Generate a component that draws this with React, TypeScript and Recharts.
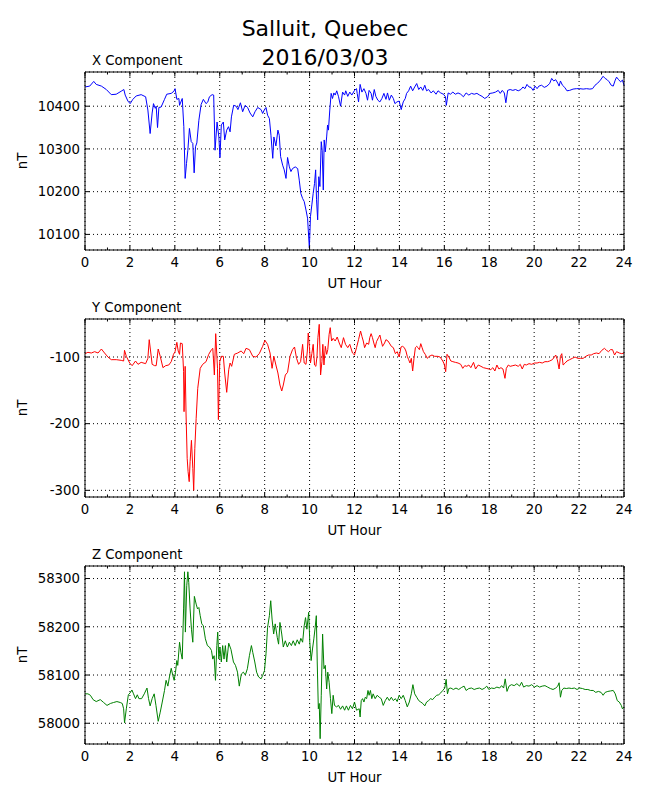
import {
  LineChart,
  Line,
  XAxis,
  YAxis,
  CartesianGrid,
  ReferenceLine,
} from "recharts";

const FONT = '"DejaVu Sans", sans-serif';

// hour ticks: every hour gets a tick mark, even hours get a label + grid line
const hourTicks = [0, 1, 2, 3, 4, 5, 6, 7, 8, 9, 10, 11, 12, 13, 14, 15, 16, 17, 18, 19, 20, 21, 22, 23, 24];
const gridHours = [0, 2, 4, 6, 8, 10, 12, 14, 16, 18, 20, 22, 24];

const xTicks = [10100, 10200, 10300, 10400];
const yTicks = [-300, -200, -100];
const zTicks = [58000, 58100, 58200, 58300];

// [UT hour, nT]
const xComponent: [number, number][] = [
  [0, 10445], [0.21, 10447], [0.39, 10458], [0.5, 10451], [0.73, 10447], [0.95, 10439], [1.17, 10427],
  [1.39, 10428], [1.61, 10435], [1.73, 10439], [1.79, 10426], [1.91, 10412], [2.01, 10406], [2.13, 10416],
  [2.28, 10424], [2.5, 10427], [2.7, 10422], [2.8, 10391], [2.9, 10336], [2.99, 10384], [3.05, 10406],
  [3.13, 10395], [3.17, 10400], [3.23, 10350], [3.29, 10397], [3.39, 10398], [3.54, 10416], [3.64, 10428],
  [3.84, 10430], [3.96, 10435], [4.01, 10441], [4.09, 10416], [4.18, 10418], [4.21, 10402], [4.33, 10418],
  [4.4, 10352], [4.46, 10231], [4.52, 10266], [4.58, 10297], [4.65, 10348], [4.73, 10317], [4.8, 10313],
  [4.86, 10244], [4.92, 10305], [4.98, 10314], [5.07, 10367], [5.17, 10404], [5.27, 10416], [5.39, 10406],
  [5.47, 10410], [5.54, 10422], [5.66, 10427], [5.73, 10426], [5.79, 10297], [5.88, 10363], [5.96, 10328],
  [6.01, 10280], [6.07, 10356], [6.16, 10363], [6.22, 10321], [6.31, 10344], [6.39, 10352], [6.46, 10340],
  [6.52, 10375], [6.62, 10402], [6.73, 10400], [6.81, 10392], [6.92, 10408], [7.02, 10387], [7.13, 10402],
  [7.24, 10397], [7.35, 10384], [7.47, 10375], [7.57, 10387], [7.69, 10397], [7.84, 10392], [7.91, 10383],
  [7.99, 10392], [8.06, 10397], [8.13, 10379], [8.21, 10371], [8.28, 10332], [8.36, 10278], [8.41, 10328],
  [8.5, 10307], [8.59, 10344], [8.65, 10332], [8.71, 10282], [8.8, 10262], [8.87, 10251], [8.95, 10231],
  [9.02, 10280], [9.1, 10258], [9.17, 10247], [9.24, 10254], [9.36, 10258], [9.47, 10254], [9.54, 10227],
  [9.61, 10196], [9.69, 10184], [9.76, 10177], [9.84, 10157], [9.91, 10138], [9.99, 10068], [10.04, 10142],
  [10.1, 10169], [10.16, 10196], [10.22, 10219], [10.27, 10251], [10.31, 10181], [10.36, 10134], [10.41, 10235],
  [10.46, 10212], [10.52, 10317], [10.56, 10297], [10.61, 10204], [10.65, 10321], [10.7, 10293], [10.76, 10328],
  [10.8, 10356], [10.84, 10344], [10.9, 10391], [10.96, 10430], [11.02, 10418], [11.08, 10431], [11.14, 10426],
  [11.21, 10436], [11.29, 10422], [11.38, 10400], [11.47, 10433], [11.56, 10426], [11.61, 10436], [11.7, 10423],
  [11.79, 10433], [11.88, 10426], [12.0, 10437], [12.09, 10441], [12.12, 10430], [12.18, 10410], [12.25, 10451],
  [12.33, 10433], [12.42, 10441], [12.51, 10430], [12.58, 10414], [12.65, 10437], [12.74, 10430], [12.8, 10414],
  [12.88, 10439], [12.95, 10423], [13.04, 10414], [13.13, 10410], [13.22, 10418], [13.31, 10430], [13.4, 10416],
  [13.47, 10431], [13.55, 10414], [13.64, 10426], [13.73, 10418], [13.8, 10406], [13.89, 10410], [13.99, 10412],
  [14.08, 10392], [14.17, 10410], [14.26, 10418], [14.32, 10430], [14.41, 10436], [14.5, 10447], [14.59, 10436],
  [14.68, 10445], [14.77, 10453], [14.86, 10439], [14.95, 10445], [15.04, 10437], [15.13, 10449], [15.21, 10436],
  [15.3, 10439], [15.41, 10431], [15.51, 10436], [15.63, 10428], [15.72, 10436], [15.84, 10431], [15.96, 10428],
  [16.05, 10422], [16.09, 10402], [16.17, 10431], [16.27, 10428], [16.38, 10433], [16.49, 10428], [16.61, 10431],
  [16.73, 10428], [16.85, 10422], [16.97, 10431], [17.09, 10426], [17.21, 10430], [17.33, 10428], [17.45, 10430],
  [17.57, 10426], [17.68, 10423], [17.8, 10418], [17.92, 10422], [18.04, 10430], [18.16, 10431], [18.28, 10433],
  [18.4, 10437], [18.49, 10430], [18.58, 10437], [18.67, 10431], [18.74, 10408], [18.82, 10437], [18.93, 10439],
  [19.05, 10437], [19.17, 10439], [19.29, 10436], [19.41, 10439], [19.5, 10445], [19.59, 10441], [19.68, 10451],
  [19.77, 10445], [19.86, 10444], [19.95, 10437], [20.04, 10447], [20.13, 10441], [20.21, 10447], [20.33, 10449],
  [20.45, 10444], [20.57, 10447], [20.69, 10453], [20.78, 10465], [20.87, 10459], [20.96, 10462], [21.05, 10454],
  [21.11, 10447], [21.17, 10459], [21.26, 10449], [21.36, 10444], [21.46, 10436], [21.58, 10437], [21.73, 10440],
  [21.88, 10441], [22.03, 10441], [22.18, 10440], [22.33, 10441], [22.48, 10440], [22.6, 10441], [22.71, 10449],
  [22.83, 10454], [22.95, 10461], [23.07, 10470], [23.16, 10465], [23.25, 10462], [23.34, 10457], [23.43, 10449],
  [23.52, 10447], [23.61, 10461], [23.67, 10468], [23.76, 10462], [23.85, 10457], [23.93, 10461], [24.0, 10449],
];

const yComponent: [number, number][] = [
  [0, -95], [0.13, -93], [0.28, -94], [0.43, -92], [0.58, -94], [0.73, -88], [0.87, -94], [1.02, -100],
  [1.17, -104], [1.39, -104], [1.61, -105], [1.72, -106], [1.76, -90], [1.84, -99], [1.99, -109], [2.1, -113],
  [2.25, -106], [2.36, -111], [2.5, -108], [2.7, -110], [2.8, -102], [2.86, -74], [2.92, -91], [2.99, -111],
  [3.1, -113], [3.17, -113], [3.26, -88], [3.35, -99], [3.47, -116], [3.59, -113], [3.73, -112], [3.84, -107],
  [3.94, -96], [4.01, -92], [4.09, -78], [4.15, -91], [4.21, -96], [4.25, -79], [4.33, -80], [4.39, -122],
  [4.41, -182], [4.46, -114], [4.5, -187], [4.55, -252], [4.59, -272], [4.64, -287], [4.68, -257], [4.74, -225],
  [4.8, -267], [4.84, -300], [4.89, -237], [4.95, -192], [5.02, -147], [5.13, -117], [5.24, -111], [5.39, -107],
  [5.51, -96], [5.63, -89], [5.69, -87], [5.76, -127], [5.82, -65], [5.9, -117], [5.94, -194], [6.0, -107],
  [6.07, -99], [6.16, -99], [6.22, -124], [6.31, -153], [6.4, -119], [6.46, -109], [6.53, -114], [6.65, -96],
  [6.8, -94], [6.95, -91], [7.07, -95], [7.17, -87], [7.32, -89], [7.47, -99], [7.61, -100], [7.76, -95],
  [7.91, -84], [8.01, -75], [8.13, -81], [8.24, -94], [8.33, -117], [8.41, -99], [8.5, -112], [8.59, -124],
  [8.68, -142], [8.76, -151], [8.83, -142], [8.92, -127], [9.02, -123], [9.13, -99], [9.24, -89], [9.33, -85],
  [9.42, -102], [9.51, -111], [9.6, -107], [9.69, -81], [9.76, -109], [9.84, -111], [9.9, -91], [9.94, -64],
  [9.99, -84], [10.04, -109], [10.1, -95], [10.16, -81], [10.22, -112], [10.28, -114], [10.33, -99], [10.37, -71],
  [10.43, -51], [10.49, -127], [10.55, -107], [10.59, -81], [10.64, -112], [10.7, -84], [10.76, -96], [10.81, -89],
  [10.87, -66], [10.92, -56], [10.98, -76], [11.05, -72], [11.14, -76], [11.23, -70], [11.32, -79], [11.41, -86],
  [11.51, -71], [11.6, -81], [11.7, -86], [11.79, -81], [11.91, -94], [12.0, -97], [12.09, -86], [12.18, -74],
  [12.27, -61], [12.33, -69], [12.39, -76], [12.45, -86], [12.54, -79], [12.63, -81], [12.68, -71], [12.74, -65],
  [12.8, -71], [12.86, -79], [12.92, -86], [12.98, -77], [13.07, -71], [13.13, -67], [13.19, -76], [13.25, -84],
  [13.34, -79], [13.4, -74], [13.49, -76], [13.55, -79], [13.64, -84], [13.73, -86], [13.82, -95], [13.9, -92],
  [13.99, -100], [14.07, -85], [14.14, -84], [14.22, -86], [14.29, -91], [14.35, -99], [14.41, -104], [14.47, -109],
  [14.53, -102], [14.59, -121], [14.65, -102], [14.71, -86], [14.77, -84], [14.83, -86], [14.89, -89], [14.95, -80],
  [15.01, -86], [15.07, -92], [15.15, -96], [15.24, -102], [15.33, -99], [15.45, -97], [15.57, -99], [15.69, -99],
  [15.81, -100], [15.93, -106], [16.0, -111], [16.06, -122], [16.12, -96], [16.2, -100], [16.29, -106], [16.38, -107],
  [16.49, -108], [16.61, -109], [16.73, -111], [16.82, -117], [16.91, -113], [17.0, -114], [17.09, -112], [17.18, -116],
  [17.3, -108], [17.39, -118], [17.51, -112], [17.63, -114], [17.74, -116], [17.86, -117], [17.98, -118], [18.07, -119],
  [18.16, -116], [18.25, -121], [18.34, -112], [18.43, -118], [18.52, -116], [18.61, -118], [18.7, -132], [18.76, -117],
  [18.85, -112], [18.93, -114], [19.05, -113], [19.17, -112], [19.29, -114], [19.38, -111], [19.47, -118], [19.56, -111],
  [19.65, -112], [19.77, -110], [19.89, -111], [20.01, -109], [20.13, -109], [20.24, -108], [20.36, -109], [20.48, -107],
  [20.6, -107], [20.69, -106], [20.81, -104], [20.9, -100], [20.96, -97], [21.03, -104], [21.11, -118], [21.17, -99],
  [21.23, -95], [21.29, -112], [21.38, -109], [21.46, -106], [21.58, -104], [21.7, -102], [21.82, -100], [21.94, -102],
  [22.06, -102], [22.18, -102], [22.3, -99], [22.42, -97], [22.54, -97], [22.65, -95], [22.77, -94], [22.89, -95],
  [23.01, -90], [23.13, -87], [23.22, -90], [23.31, -92], [23.4, -89], [23.49, -89], [23.58, -97], [23.67, -92],
  [23.79, -94], [23.9, -95], [24.0, -94],
];

const zComponent: [number, number][] = [
  [0, 58061], [0.13, 58061], [0.24, 58058], [0.36, 58049], [0.5, 58045], [0.68, 58049], [0.83, 58043],
  [0.98, 58037], [1.13, 58041], [1.27, 58043], [1.42, 58045], [1.57, 58043], [1.66, 58041], [1.72, 58030],
  [1.76, 58001], [1.84, 58030], [1.93, 58059], [2.01, 58063], [2.09, 58069], [2.16, 58061], [2.25, 58051],
  [2.33, 58059], [2.4, 58051], [2.52, 58051], [2.64, 58061], [2.76, 58073], [2.83, 58051], [2.9, 58036],
  [2.99, 58051], [3.08, 58061], [3.16, 58037], [3.26, 58004], [3.35, 58023], [3.44, 58044], [3.54, 58068],
  [3.61, 58089], [3.69, 58077], [3.76, 58096], [3.84, 58114], [3.91, 58099], [3.97, 58089], [4.03, 58106],
  [4.09, 58130], [4.13, 58120], [4.21, 58168], [4.27, 58147], [4.33, 58133], [4.39, 58237], [4.43, 58314],
  [4.47, 58189], [4.53, 58285], [4.58, 58314], [4.62, 58292], [4.68, 58237], [4.74, 58195], [4.8, 58168],
  [4.87, 58263], [4.95, 58247], [5.01, 58237], [5.07, 58240], [5.13, 58223], [5.2, 58206], [5.27, 58202],
  [5.36, 58175], [5.45, 58161], [5.54, 58158], [5.63, 58151], [5.69, 58133], [5.75, 58140], [5.81, 58089],
  [5.87, 58161], [5.91, 58189], [5.96, 58133], [6.01, 58158], [6.07, 58127], [6.13, 58161], [6.19, 58133],
  [6.25, 58161], [6.31, 58127], [6.4, 58166], [6.5, 58153], [6.61, 58127], [6.7, 58120], [6.79, 58106],
  [6.87, 58077], [6.96, 58102], [7.05, 58106], [7.14, 58100], [7.23, 58113], [7.32, 58140], [7.41, 58161],
  [7.47, 58147], [7.56, 58127], [7.64, 58106], [7.73, 58096], [7.84, 58092], [7.91, 58099], [7.99, 58109],
  [8.06, 58144], [8.13, 58199], [8.21, 58223], [8.27, 58254], [8.33, 58216], [8.4, 58185], [8.47, 58206],
  [8.56, 58178], [8.62, 58164], [8.68, 58209], [8.76, 58185], [8.83, 58158], [8.92, 58171], [9.01, 58158],
  [9.1, 58168], [9.19, 58161], [9.27, 58171], [9.36, 58161], [9.45, 58173], [9.54, 58164], [9.61, 58176],
  [9.69, 58168], [9.76, 58202], [9.82, 58219], [9.88, 58195], [9.96, 58230], [10.01, 58168], [10.07, 58130],
  [10.13, 58154], [10.19, 58175], [10.25, 58199], [10.3, 58223], [10.34, 58127], [10.39, 58030], [10.43, 58041],
  [10.47, 57968], [10.52, 58058], [10.58, 58185], [10.64, 58113], [10.7, 58120], [10.76, 58071], [10.81, 58106],
  [10.87, 58085], [10.93, 58051], [10.99, 58020], [11.05, 58058], [11.11, 58037], [11.2, 58034], [11.29, 58037],
  [11.38, 58029], [11.47, 58036], [11.56, 58027], [11.64, 58036], [11.73, 58027], [11.82, 58037], [11.91, 58030],
  [12.0, 58044], [12.09, 58027], [12.21, 58030], [12.25, 58013], [12.3, 58047], [12.36, 58051], [12.42, 58044],
  [12.48, 58054], [12.54, 58051], [12.6, 58068], [12.65, 58058], [12.71, 58068], [12.77, 58051], [12.83, 58061],
  [12.92, 58051], [13.01, 58058], [13.1, 58054], [13.19, 58051], [13.28, 58037], [13.37, 58047], [13.46, 58054],
  [13.55, 58047], [13.64, 58054], [13.73, 58047], [13.82, 58051], [13.9, 58045], [13.99, 58058], [14.08, 58051],
  [14.17, 58058], [14.26, 58047], [14.35, 58034], [14.44, 58044], [14.53, 58061], [14.6, 58080], [14.68, 58061],
  [14.77, 58054], [14.86, 58047], [14.95, 58044], [15.04, 58041], [15.13, 58036], [15.21, 58044], [15.3, 58047],
  [15.39, 58051], [15.48, 58049], [15.57, 58054], [15.66, 58058], [15.75, 58059], [15.84, 58063], [15.93, 58068],
  [16.02, 58073], [16.08, 58091], [16.14, 58061], [16.2, 58072], [16.29, 58073], [16.4, 58070], [16.52, 58073],
  [16.64, 58070], [16.76, 58074], [16.88, 58077], [16.97, 58068], [17.09, 58072], [17.21, 58073], [17.33, 58070],
  [17.45, 58072], [17.57, 58073], [17.68, 58070], [17.8, 58073], [17.89, 58077], [17.98, 58070], [18.1, 58073],
  [18.22, 58072], [18.34, 58075], [18.46, 58073], [18.55, 58078], [18.64, 58073], [18.71, 58092], [18.79, 58066],
  [18.88, 58077], [18.99, 58080], [19.11, 58078], [19.23, 58082], [19.35, 58077], [19.44, 58085], [19.53, 58075],
  [19.65, 58078], [19.77, 58077], [19.89, 58080], [20.01, 58075], [20.13, 58078], [20.24, 58075], [20.36, 58077],
  [20.48, 58078], [20.6, 58075], [20.72, 58072], [20.84, 58070], [20.96, 58073], [21.05, 58077], [21.11, 58084],
  [21.17, 58054], [21.23, 58068], [21.32, 58073], [21.43, 58072], [21.55, 58073], [21.67, 58072], [21.79, 58073],
  [21.91, 58070], [22.03, 58073], [22.15, 58072], [22.27, 58070], [22.39, 58070], [22.51, 58068], [22.63, 58068],
  [22.74, 58064], [22.86, 58066], [22.98, 58064], [23.07, 58058], [23.16, 58064], [23.28, 58066], [23.4, 58067],
  [23.52, 58068], [23.61, 58061], [23.7, 58047], [23.79, 58044], [23.88, 58037], [23.93, 58030], [24.0, 58034],
];

// ticks point inward like matplotlib's classic style
const BottomTick = (props: any) => {
  const { x, y, payload } = props;
  const major = payload.value % 2 === 0;
  return (
    <g>
      <line x1={x} x2={x} y1={y} y2={y - (major ? 4.5 : 2.5)} stroke="#000" />
      {major && (
        <text x={x} y={y + 17.4} textAnchor="middle" fontSize={13.3} fontFamily={FONT} fill="#000">
          {payload.value}
        </text>
      )}
    </g>
  );
};

const TopTick = (props: any) => {
  const { x, y, payload } = props;
  const major = payload.value % 2 === 0;
  return <line x1={x} x2={x} y1={y} y2={y + (major ? 4.5 : 2.5)} stroke="#000" />;
};

const LeftTick = (props: any) => {
  const { x, y, payload } = props;
  return (
    <g>
      <line x1={x} x2={x + 4.5} y1={y} y2={y} stroke="#000" />
      <text x={x - 5} y={y + 4.8} textAnchor="end" fontSize={13.3} fontFamily={FONT} fill="#000">
        {payload.value}
      </text>
    </g>
  );
};

const RightTick = (props: any) => {
  const { x, y } = props;
  return <line x1={x} x2={x - 4.5} y1={y} y2={y} stroke="#000" />;
};

interface PanelProps {
  samples: [number, number][];
  color: string;
  domain: [number, number];
  ticks: number[];
  top: number;
}

const Panel = ({ samples, color, domain, ticks, top }: PanelProps) => {
  const data = samples.map(([t, v]) => ({ t, v }));
  return (
    <div style={{ position: "absolute", left: 0, top: top - 10 }}>
      <LineChart width={650} height={238} data={data} margin={{ top: 0, right: 0, bottom: 0, left: 0 }}>
        <CartesianGrid vertical={false} stroke="#000" strokeDasharray="1 3" />
        {gridHours.map((h) => (
          <ReferenceLine key={h} x={h} stroke="#000" strokeDasharray="1 3" />
        ))}
        <XAxis
          dataKey="t"
          type="number"
          domain={[0, 24]}
          ticks={hourTicks}
          interval={0}
          height={50}
          tickSize={0}
          tickMargin={0}
          tickLine={false}
          tick={BottomTick}
          axisLine={{ stroke: "#000" }}
          label={{
            value: "UT Hour",
            position: "insideBottom",
            offset: 12,
            fontSize: 13.3,
            fontFamily: FONT,
            fill: "#000",
          }}
        />
        <XAxis
          xAxisId="top"
          orientation="top"
          dataKey="t"
          type="number"
          domain={[0, 24]}
          ticks={hourTicks}
          interval={0}
          height={10}
          tickSize={0}
          tickMargin={0}
          tickLine={false}
          tick={TopTick}
          axisLine={{ stroke: "#000" }}
        />
        <YAxis
          type="number"
          domain={domain}
          ticks={ticks}
          interval={0}
          allowDataOverflow
          width={85}
          tickSize={0}
          tickMargin={0}
          tickLine={false}
          tick={LeftTick}
          axisLine={{ stroke: "#000" }}
          label={{
            value: "nT",
            angle: -90,
            position: "insideLeft",
            offset: 21.8,
            fontSize: 13.3,
            fontFamily: FONT,
            fill: "#000",
            style: { textAnchor: "middle" },
          }}
        />
        <YAxis
          yAxisId="right"
          orientation="right"
          type="number"
          domain={domain}
          ticks={ticks}
          interval={0}
          allowDataOverflow
          width={26}
          tickSize={0}
          tickMargin={0}
          tickLine={false}
          tick={RightTick}
          axisLine={{ stroke: "#000" }}
        />
        <Line
          type="linear"
          dataKey="v"
          stroke={color}
          strokeWidth={1}
          dot={false}
          isAnimationActive={false}
        />
      </LineChart>
    </div>
  );
};

export default function App() {
  return (
    <div style={{ position: "absolute", left: 0, top: 0, width: 650, height: 800, background: "#fff" }}>
      <svg width={650} height={800} style={{ position: "absolute", left: 0, top: 0 }}>
        <g fontFamily={FONT} fill="#000">
          <text x={325} y={35.5} textAnchor="middle" fontSize={22}>
            Salluit, Quebec
          </text>
          <text x={325} y={64.5} textAnchor="middle" fontSize={22}>
            2016/03/03
          </text>
          <text x={92} y={65} fontSize={13.3}>X Component</text>
          <text x={92} y={312} fontSize={13.3}>Y Component</text>
          <text x={92} y={559} fontSize={13.3}>Z Component</text>
        </g>
      </svg>
      <Panel samples={xComponent} color="#0000ff" domain={[10063.5, 10480]} ticks={xTicks} top={72} />
      <Panel samples={yComponent} color="#ff0000" domain={[-310, -43]} ticks={yTicks} top={319} />
      <Panel samples={zComponent} color="#008000" domain={[57957, 58326]} ticks={zTicks} top={566} />
    </div>
  );
}
